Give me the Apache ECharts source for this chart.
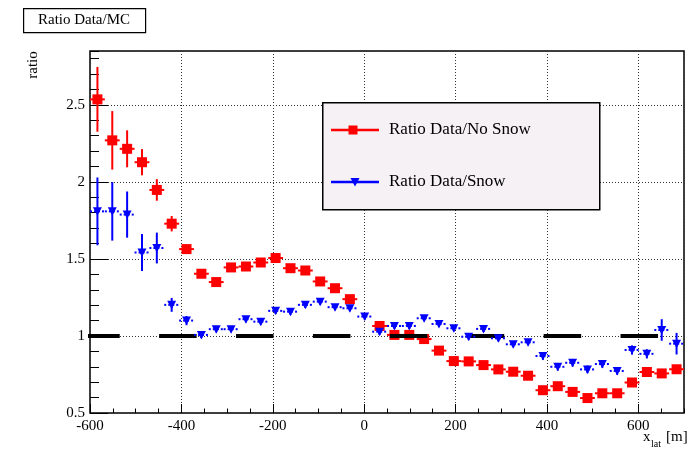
<!DOCTYPE html>
<html>
<head>
<meta charset="utf-8">
<script src="https://cdn.jsdelivr.net/npm/echarts@6/dist/echarts.min.js"></script>
<style>html,body{margin:0;padding:0;background:#fff;}#c{width:692px;height:454px;}</style>
</head>
<body>
<div id="c"></div>
<script>
// bin centres (x_lat, m)
const xCenters = [-583.75, -551.25, -518.75, -486.25, -453.75, -421.25, -388.75, -356.25, -323.75, -291.25,
  -258.75, -226.25, -193.75, -161.25, -128.75, -96.25, -63.75, -31.25, 1.25, 33.75,
  66.25, 98.75, 131.25, 163.75, 196.25, 228.75, 261.25, 293.75, 326.25, 358.75,
  391.25, 423.75, 456.25, 488.75, 521.25, 553.75, 586.25, 618.75, 651.25, 683.75];
const binHalfWidth = 16.25;
// Ratio Data/No Snow (bin at x≈0 hidden behind the Snow marker in the reference)
const noSnow = [2.536, 2.27, 2.215, 2.128, 1.948, 1.729, 1.564, 1.404, 1.35, 1.445,
  1.451, 1.477, 1.506, 1.44, 1.425, 1.354, 1.31, 1.239, null, 1.065,
  1.007, 1.007, 0.98, 0.905, 0.837, 0.835, 0.811, 0.783, 0.768, 0.742,
  0.648, 0.674, 0.637, 0.597, 0.628, 0.628, 0.698, 0.766, 0.757, 0.784];
const noSnowErr = [0.21, 0.19, 0.12, 0.085, 0.07, 0.05, 0.025, 0.02, 0.02, 0.02,
  0.02, 0.02, 0.02, 0.02, 0.02, 0.02, 0.02, 0.02, 0.02, 0.02,
  0.015, 0.015, 0.015, 0.015, 0.015, 0.015, 0.015, 0.015, 0.015, 0.015,
  0.015, 0.015, 0.015, 0.015, 0.015, 0.015, 0.015, 0.02, 0.02, 0.02];
// Ratio Data/Snow
const snow = [1.809, 1.809, 1.788, 1.542, 1.571, 1.202, 1.10, 1.007, 1.044, 1.044,
  1.109, 1.093, 1.163, 1.158, 1.202, 1.223, 1.187, 1.18, 1.126, 1.028,
  1.065, 1.065, 1.115, 1.078, 1.05, 0.995, 1.046, 0.985, 0.946, 0.959,
  0.87, 0.80, 0.826, 0.783, 0.818, 0.773, 0.909, 0.884, 1.039, 0.95];
const snowErr = [0.22, 0.19, 0.15, 0.12, 0.10, 0.045, 0.03, 0.02, 0.02, 0.02,
  0.02, 0.02, 0.02, 0.02, 0.02, 0.02, 0.02, 0.02, 0.02, 0.02,
  0.02, 0.02, 0.02, 0.02, 0.02, 0.02, 0.02, 0.02, 0.02, 0.02,
  0.025, 0.025, 0.025, 0.025, 0.025, 0.025, 0.03, 0.03, 0.07, 0.07];
// reference line at ratio = 1
const refLineX = [-617, 700];
const refLineY = [1, 1];

const xTicks = {min: -600, max: 700, major: 200, minor: 50};
const yTicks = {min: 0.5, max: 2.85, major: 0.5, minor: 0.1};

const FONT = 'Liberation Serif';

function mk(xs, ys, es) { return xs.map((x, i) => [x, ys[i] === null ? '-' : ys[i], es[i]]); }

function errRender(kind) {
  return function (params, api) {
    const x = api.value(0), y = api.value(1), e = api.value(2);
    if (isNaN(y)) return null;
    const c = api.coord([x, y]);
    const lo = api.coord([x, y - e]);
    const hi = api.coord([x, y + e]);
    const l = api.coord([x - binHalfWidth, y]);
    const r = api.coord([x + binHalfWidth, y]);
    const col = kind === 'red' ? '#ff0000' : '#0000ff';
    const children = [
      {type: 'line', shape: {x1: l[0], y1: c[1], x2: r[0], y2: c[1]},
       style: {stroke: col, lineWidth: 2, lineDash: kind === 'red' ? null : [2, 2]}},
      {type: 'line', shape: {x1: c[0], y1: lo[1], x2: c[0], y2: hi[1]},
       style: {stroke: col, lineWidth: 2}}
    ];
    if (kind === 'red') {
      children.push({type: 'rect', shape: {x: c[0] - 5, y: c[1] - 5, width: 10, height: 10},
        style: {fill: col}});
    } else {
      children.push({type: 'polygon', shape: {points: [[c[0] - 4.5, c[1] - 4], [c[0] + 4.5, c[1] - 4], [c[0], c[1] + 4.5]]},
        style: {fill: col}});
    }
    return {type: 'group', children: children};
  };
}

const chart = echarts.init(document.getElementById('c'), null, {renderer: 'canvas'});
const gridRect = {left: 90, right: 8, top: 51, bottom: 41};

chart.setOption({
  animation: false,
  backgroundColor: '#ffffff',
  grid: Object.assign({show: true, borderColor: '#000', borderWidth: 1.5, backgroundColor: 'transparent'}, gridRect),
  xAxis: [{
    type: 'value', min: xTicks.min, max: xTicks.max, interval: xTicks.major,
    axisLine: {show: false, onZero: false},
    axisTick: {show: true, inside: true, length: 9, lineStyle: {color: '#000', width: 1}},
    axisLabel: {color: '#000', fontFamily: FONT, fontSize: 15, margin: 6, showMaxLabel: false},
    splitLine: {show: true, lineStyle: {color: '#333', type: [1, 2], width: 1}}
  }, {
    type: 'value', min: xTicks.min, max: xTicks.max, interval: xTicks.minor, position: 'bottom', offset: 0,
    axisLine: {show: false, onZero: false},
    axisTick: {show: true, inside: true, length: 4.5, lineStyle: {color: '#000', width: 1}},
    axisLabel: {show: false}, splitLine: {show: false}
  }],
  yAxis: [{
    type: 'value', min: yTicks.min, max: yTicks.max, interval: yTicks.major,
    axisLine: {show: false, onZero: false},
    axisTick: {show: true, inside: true, length: 18, lineStyle: {color: '#000', width: 1}},
    axisLabel: {color: '#000', fontFamily: FONT, fontSize: 15, margin: 5, showMaxLabel: false},
    splitLine: {show: true, lineStyle: {color: '#333', type: [1, 2], width: 1}}
  }, {
    type: 'value', min: yTicks.min, max: yTicks.max, interval: yTicks.minor, position: 'left', offset: 0,
    axisLine: {show: false, onZero: false},
    axisTick: {show: true, inside: true, length: 9, lineStyle: {color: '#000', width: 1}},
    axisLabel: {show: false}, splitLine: {show: false}
  }],
  series: [
    {type: 'custom', name: 'Ratio Data/No Snow', xAxisIndex: 0, yAxisIndex: 0,
     renderItem: errRender('red'), data: mk(xCenters, noSnow, noSnowErr), z: 2},
    {type: 'line', xAxisIndex: 0, yAxisIndex: 0, data: refLineX.map((x, i) => [x, refLineY[i]]),
     symbol: 'none', clip: false, silent: true, z: 3,
     lineStyle: {color: '#000', width: 4, type: [37.5, 39.4], dashOffset: 0}},
    {type: 'custom', name: 'Ratio Data/Snow', xAxisIndex: 0, yAxisIndex: 0,
     renderItem: errRender('blue'), data: mk(xCenters, snow, snowErr), z: 4}
  ],
  graphic: [
    // title box
    {type: 'rect', left: 23, top: 8, shape: {width: 122, height: 24}, z: 10,
     style: {fill: '#fff', stroke: '#000', lineWidth: 1.2}},
    {type: 'text', x: 84, y: 20, z: 11,
     style: {text: 'Ratio Data/MC', font: '15px "Liberation Serif"', fill: '#000', align: 'center', verticalAlign: 'middle'}},
    // y title
    {type: 'text', x: 33, y: 65, rotation: Math.PI / 2, z: 11,
     style: {text: 'ratio', font: '15px "Liberation Serif"', fill: '#000', align: 'center', verticalAlign: 'middle'}},
    // x title
    {type: 'text', x: 643, y: 437, z: 11,
     style: {text: 'x', font: '15px "Liberation Serif"', fill: '#000', align: 'left', verticalAlign: 'middle'}},
    {type: 'text', x: 651, y: 444, z: 11,
     style: {text: 'lat', font: '10px "Liberation Serif"', fill: '#000', align: 'left', verticalAlign: 'middle'}},
    {type: 'text', x: 666, y: 437, z: 11,
     style: {text: '[m]', font: '15px "Liberation Serif"', fill: '#000', align: 'left', verticalAlign: 'middle'}},
    // legend
    {type: 'rect', left: 322, top: 102, shape: {width: 277, height: 107}, z: 10,
     style: {fill: '#f5f1f5', stroke: '#000', lineWidth: 1.5}},
    {type: 'line', shape: {x1: 331, y1: 130, x2: 379, y2: 130}, z: 11, style: {stroke: '#ff0000', lineWidth: 2.5}},
    {type: 'rect', shape: {x: 348.5, y: 125.5, width: 9, height: 9}, z: 12, style: {fill: '#ff0000'}},
    {type: 'text', x: 389, y: 130, z: 11,
     style: {text: 'Ratio Data/No Snow', font: '17px "Liberation Serif"', fill: '#000', align: 'left', verticalAlign: 'middle'}},
    {type: 'line', shape: {x1: 331, y1: 182, x2: 379, y2: 182}, z: 11, style: {stroke: '#0000ff', lineWidth: 2.5}},
    {type: 'polygon', shape: {points: [[350.5, 178], [359.5, 178], [355, 186.5]]}, z: 12, style: {fill: '#0000ff'}},
    {type: 'text', x: 389, y: 182, z: 11,
     style: {text: 'Ratio Data/Snow', font: '17px "Liberation Serif"', fill: '#000', align: 'left', verticalAlign: 'middle'}}
  ]
});
</script>
</body>
</html>
